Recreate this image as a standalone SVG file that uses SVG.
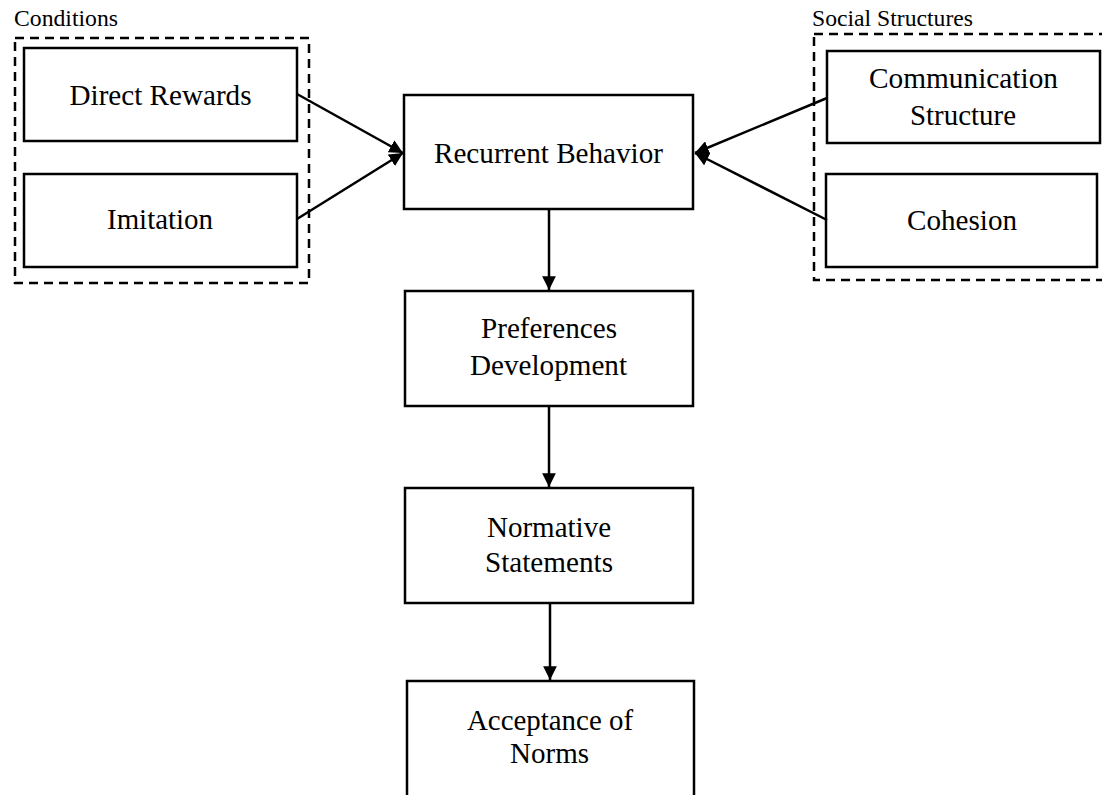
<svg xmlns="http://www.w3.org/2000/svg" width="1102" height="795" viewBox="0 0 1102 795">
<style>
.box{fill:#fff;stroke:#000;stroke-width:2.5}
.grp{fill:none;stroke:#000;stroke-width:2.5;stroke-dasharray:9 6}
.t{font-family:"Liberation Serif","Times New Roman",serif;font-size:29px;fill:#000;text-anchor:middle}
.s{font-family:"Liberation Serif","Times New Roman",serif;font-size:23px;fill:#000}
.c{stroke:#000;stroke-width:2.5;fill:none;marker-end:url(#ah)}
</style>
<defs>
<marker id="ah" viewBox="0 0 10 10" refX="10" refY="5" markerWidth="5.5" markerHeight="5.5" orient="auto" markerUnits="strokeWidth">
<path d="M0,0 L10,5 L0,10 z" fill="#000"/>
</marker>
</defs>
<rect width="1102" height="795" fill="#fff"/>
<g id="conditions">
<text class="s" x="14" y="26" textLength="104" lengthAdjust="spacingAndGlyphs">Conditions</text>
<rect class="grp" x="15" y="38" width="294" height="245"/>
</g>
<g id="social">
<text class="s" x="812" y="26" textLength="161" lengthAdjust="spacingAndGlyphs">Social Structures</text>
<rect class="grp" x="814" y="34" width="300" height="246"/>
</g>
<g id="direct-rewards">
<rect class="box" x="24" y="48" width="273" height="93"/>
<text class="t" x="160.5" y="105" textLength="182" lengthAdjust="spacingAndGlyphs">Direct Rewards</text>
</g>
<g id="imitation">
<rect class="box" x="24" y="174" width="273" height="93"/>
<text class="t" x="160" y="229" textLength="106" lengthAdjust="spacingAndGlyphs">Imitation</text>
</g>
<g id="communication">
<rect class="box" x="827" y="51" width="273" height="92"/>
<text class="t" x="963.5" y="88" textLength="189" lengthAdjust="spacingAndGlyphs">Communication</text>
<text class="t" x="963" y="125" textLength="106" lengthAdjust="spacingAndGlyphs">Structure</text>
</g>
<g id="cohesion">
<rect class="box" x="826" y="174" width="271" height="93"/>
<text class="t" x="962" y="230" textLength="110" lengthAdjust="spacingAndGlyphs">Cohesion</text>
</g>
<g id="recurrent">
<rect class="box" x="404" y="95" width="289" height="114"/>
<text class="t" x="548.5" y="163" textLength="229" lengthAdjust="spacingAndGlyphs">Recurrent Behavior</text>
</g>
<g id="preferences">
<rect class="box" x="405" y="291" width="288" height="115"/>
<text class="t" x="549" y="338" textLength="136" lengthAdjust="spacingAndGlyphs">Preferences</text>
<text class="t" x="548.5" y="375" textLength="157" lengthAdjust="spacingAndGlyphs">Development</text>
</g>
<g id="normative">
<rect class="box" x="405" y="488" width="288" height="115"/>
<text class="t" x="549" y="537" textLength="124" lengthAdjust="spacingAndGlyphs">Normative</text>
<text class="t" x="549" y="572" textLength="128" lengthAdjust="spacingAndGlyphs">Statements</text>
</g>
<g id="acceptance">
<rect class="box" x="407" y="681" width="287" height="130"/>
<text class="t" x="550" y="730" textLength="166" lengthAdjust="spacingAndGlyphs">Acceptance of</text>
<text class="t" x="549.5" y="763" textLength="79" lengthAdjust="spacingAndGlyphs">Norms</text>
</g>
<g id="connectors">
<line class="c" x1="297" y1="94" x2="403" y2="153"/>
<line class="c" x1="297" y1="219" x2="403" y2="153"/>
<line class="c" x1="827" y1="98" x2="695" y2="153"/>
<line class="c" x1="827" y1="220" x2="695" y2="153"/>
<line class="c" x1="549" y1="209" x2="549" y2="290"/>
<line class="c" x1="549" y1="406" x2="549" y2="487"/>
<line class="c" x1="550" y1="603" x2="550" y2="680"/>
</g>
</svg>
